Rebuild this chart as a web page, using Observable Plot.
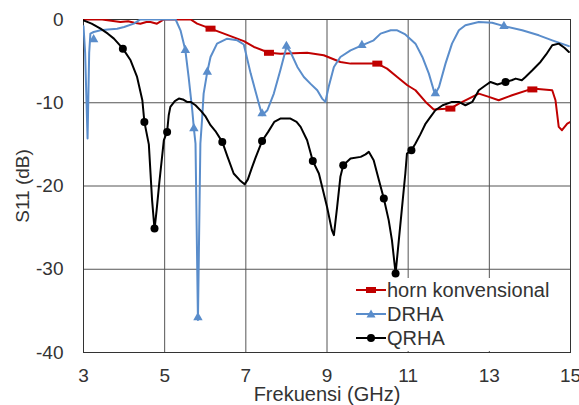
<!DOCTYPE html>
<html>
<head>
<meta charset="utf-8">
<script src="https://cdn.jsdelivr.net/npm/d3@7"></script>
<script src="https://cdn.jsdelivr.net/npm/@observablehq/plot@0.6"></script>
<style>
  html, body { margin: 0; padding: 0; background: #fff; }
  #wrap { position: relative; width: 579px; height: 405px; overflow: hidden; font-family: "Liberation Sans", Arial, sans-serif; }
  #legend { position: absolute; left: 352px; top: 278px; width: 217px; height: 73px; background: #fff; }
  .item { position: absolute; left: 4px; height: 24px; display: flex; align-items: center; font-size: 20px; color: #333; white-space: nowrap; }
  .item svg { display: block; margin-right: 1px; }
</style>
</head>
<body>
<div id="wrap"></div>
<script>
// ---- data (frequency GHz, S11 dB) ----
const seriesNames = ["horn konvensional", "DRHA", "QRHA"];
const seriesColors = ["#C00000", "#5A8DCB", "#000000"];

const hornFreq = [3.0,3.46,3.91,4.10,4.25,4.40,4.55,4.65,4.81,4.98,5.64,5.80,6.13,6.46,6.95,7.20,7.57,7.85,8.51,8.92,9.33,9.58,10.24,10.48,10.73,10.98,11.18,11.43,11.63,12.04,12.25,12.58,12.74,12.99,13.23,13.56,14.06,14.55,14.63,14.71,14.79,14.92,15.0];
const hornS11  = [0,0,-0.3,-0.2,-0.4,-0.5,-0.3,-0.3,-0.5,0,0,-0.5,-1.1,-1.7,-2.6,-3.3,-4.0,-4.1,-4.0,-4.3,-5.1,-5.3,-5.3,-5.9,-6.9,-7.9,-8.5,-9.9,-10.8,-10.7,-10.1,-9.3,-8.9,-9.3,-9.7,-9.1,-8.3,-8.5,-9.7,-12.9,-13.3,-12.5,-12.3];
const hornMarkFreq = [6.13,7.57,10.24,12.04,14.06];
const hornMarkS11  = [-1.1,-4.0,-5.3,-10.7,-8.4];

const drhaFreq = [3.0,3.04,3.1,3.14,3.17,3.25,3.42,3.6,3.83,4.0,4.24,4.4,4.8,5.27,5.39,5.51,5.59,5.68,5.72,5.76,5.82,5.88,5.92,5.96,6.05,6.13,6.29,6.54,6.79,6.95,7.12,7.32,7.40,7.53,7.69,7.85,7.98,8.0,8.10,8.27,8.43,8.59,8.76,8.88,8.96,9.04,9.17,9.33,9.58,9.86,10.15,10.32,10.57,10.73,10.93,11.18,11.35,11.51,11.63,11.67,11.76,11.92,12.08,12.25,12.41,12.74,13.07,13.36,13.81,14.22,14.55,14.96];
const drhaS11  = [-0.8,-4,-14.3,-4,-1.7,-1.5,-1.3,-1.2,-1.1,-0.9,-0.5,0,0,0,-1.3,-3.7,-6.9,-10.9,-13.1,-14.9,-36.1,-14.9,-12.1,-8.9,-6.3,-4.5,-2.9,-2.3,-2.5,-3.0,-6.5,-10.1,-11.5,-10.9,-8.9,-6.1,-3.7,-3.3,-3.9,-5.7,-6.9,-7.7,-8.5,-9.5,-9.9,-8.1,-5.7,-4.5,-3.7,-3.1,-2.5,-1.7,-1.3,-1.3,-1.8,-2.9,-4.5,-6.5,-8.5,-8.9,-8.1,-5.3,-2.9,-1.3,-0.7,-0.3,-0.4,-0.8,-1.3,-1.9,-2.5,-3.2];
const drhaMarkFreq = [3.25,5.51,5.72,5.82,6.05,7.40,8.0,9.86,11.67,13.36];
const drhaMarkS11  = [-2.4,-3.7,-13.1,-35.8,-6.3,-11.3,-3.2,-3.1,-8.9,-0.8];

const qrhaFreq = [3.0,3.2,3.42,3.6,3.75,3.97,4.16,4.32,4.45,4.50,4.61,4.69,4.75,4.80,4.87,4.98,5.06,5.10,5.14,5.25,5.35,5.45,5.55,5.64,5.76,5.9,6.0,6.13,6.25,6.42,6.55,6.70,6.85,6.97,7.05,7.15,7.24,7.40,7.55,7.7,7.85,8.1,8.25,8.35,8.51,8.65,8.80,8.88,9.0,9.12,9.17,9.25,9.33,9.40,9.58,9.83,9.95,10.03,10.15,10.28,10.40,10.52,10.6,10.69,10.77,10.85,10.93,10.97,11.08,11.18,11.3,11.43,11.55,11.67,11.85,12.08,12.25,12.41,12.58,12.74,12.91,13.03,13.2,13.40,13.55,13.65,13.8,13.89,14.06,14.26,14.4,14.55,14.71,14.85,14.96];
const qrhaS11  = [-0.1,-0.5,-1.1,-1.7,-2.3,-3.5,-4.9,-6.9,-9.7,-12.3,-15.0,-21.7,-25.2,-23.0,-19.5,-14.5,-13.5,-11.5,-10.5,-9.8,-9.5,-9.6,-9.9,-9.9,-10.3,-11.0,-11.6,-12.7,-13.4,-14.7,-16.5,-18.5,-19.3,-19.8,-19.2,-17.8,-16.6,-14.6,-13.5,-12.3,-11.9,-11.9,-12.3,-12.9,-14.5,-17.0,-18.5,-20.1,-22.5,-25.3,-25.9,-22.5,-18.9,-17.5,-16.7,-16.5,-16.2,-15.9,-16.9,-19.3,-21.5,-24.1,-26.5,-30.5,-26.5,-22.5,-18.5,-16.1,-15.7,-14.9,-13.8,-12.5,-11.7,-10.9,-10.3,-9.9,-9.9,-10.3,-9.9,-8.5,-7.9,-7.5,-7.8,-7.5,-7.3,-7.1,-7.3,-6.9,-6.1,-5.1,-4.2,-3.1,-2.9,-3.4,-3.9];
const qrhaMarkFreq = [3.97,4.50,4.75,5.06,6.42,7.40,8.65,9.40,10.40,10.69,11.08,13.40];
const qrhaMarkS11  = [-3.5,-12.3,-25.1,-13.5,-14.7,-14.6,-17.0,-17.5,-21.5,-30.5,-15.7,-7.5];

const xTicks = [3,5,7,9,11,13,15];
const yTicks = [0,-10,-20,-30,-40];
const xLabel = "Frekuensi (GHz)";
const yLabel = "S11 (dB)";

// ---- build tables ----
const zip = (xs, ys) => xs.map((x, i) => ({x, y: ys[i]}));
const horn = zip(hornFreq, hornS11), hornM = zip(hornMarkFreq, hornMarkS11);
const drha = zip(drhaFreq, drhaS11), drhaM = zip(drhaMarkFreq, drhaMarkS11);
const qrha = zip(qrhaFreq, qrhaS11), qrhaM = zip(qrhaMarkFreq, qrhaMarkS11);

// wide rectangle symbol (Excel-style square marker)
const wideRect = {
  draw(context, size) {
    const s = Math.sqrt(size / Math.PI);
    context.rect(-1.25 * s, -0.75 * s, 2.5 * s, 1.5 * s);
  }
};

const font = "Liberation Sans, Arial, sans-serif";
const chart = Plot.plot({
  width: 579,
  height: 405,
  marginLeft: 83,
  marginRight: 9,
  marginTop: 19,
  marginBottom: 53,
  style: {fontFamily: font, fontSize: "19px", color: "#333", background: "#fff", overflow: "visible"},
  x: {domain: [3, 15]},
  y: {domain: [-40, 0]},
  marks: [
    Plot.gridX(xTicks.slice(1, -1), {stroke: "#555", strokeOpacity: 1, strokeWidth: 1}),
    Plot.gridY(yTicks.slice(1, -1), {stroke: "#555", strokeOpacity: 1, strokeWidth: 1}),
    Plot.frame({stroke: "#333", strokeWidth: 1}),
    Plot.axisX(xTicks, {tickSize: 0, tickPadding: 16, label: null, fill: "#333", fontSize: 19, tickFormat: d => String(d)}),
    Plot.axisY(yTicks, {tickSize: 0, tickPadding: 20, label: null, fill: "#333", fontSize: 19, tickFormat: d => String(d)}),
    Plot.text([xLabel], {frameAnchor: "bottom", dy: 42, lineAnchor: "middle", textAnchor: "middle", text: d => d, fontSize: 20, fill: "#333"}),
    Plot.text([yLabel], {frameAnchor: "left", dx: -61, rotate: -90, lineAnchor: "middle", textAnchor: "middle", text: d => d, fontSize: 19, fill: "#333"}),
    Plot.line(horn, {x: "x", y: "y", stroke: seriesColors[0], strokeWidth: 2, clip: true}),
    Plot.line(drha, {x: "x", y: "y", stroke: seriesColors[1], strokeWidth: 2, clip: true}),
    Plot.line(qrha, {x: "x", y: "y", stroke: seriesColors[2], strokeWidth: 2, clip: true}),
    Plot.dot(hornM, {x: "x", y: "y", symbol: wideRect, r: 4, fill: seriesColors[0], stroke: "none"}),
    Plot.dot(drhaM, {x: "x", y: "y", symbol: "triangle", r: 3.5, fill: seriesColors[1], stroke: "none"}),
    Plot.dot(qrhaM, {x: "x", y: "y", symbol: "circle", r: 4, fill: seriesColors[2], stroke: "none"})
  ]
});

const wrap = document.getElementById("wrap");
wrap.appendChild(chart);

// ---- legend ----
const legend = document.createElement("div");
legend.id = "legend";
wrap.appendChild(legend);
const markerShapes = [
  (c) => `<rect x="10" y="9" width="10" height="6" fill="${c}"/>`,
  (c) => `<path d="M15,7.5 L19.5,15.5 L10.5,15.5 Z" fill="${c}"/>`,
  (c) => `<circle cx="15" cy="12" r="4" fill="${c}"/>`
];
seriesNames.forEach((name, i) => {
  const item = document.createElement("div");
  item.className = "item";
  item.style.top = (0 + i * 24) + "px";
  item.innerHTML = `<svg width="30" height="24"><line x1="0" x2="30" y1="12" y2="12" stroke="${seriesColors[i]}" stroke-width="2"/>${markerShapes[i](seriesColors[i])}</svg><span>${name}</span>`;
  legend.appendChild(item);
});
</script>
</body>
</html>
